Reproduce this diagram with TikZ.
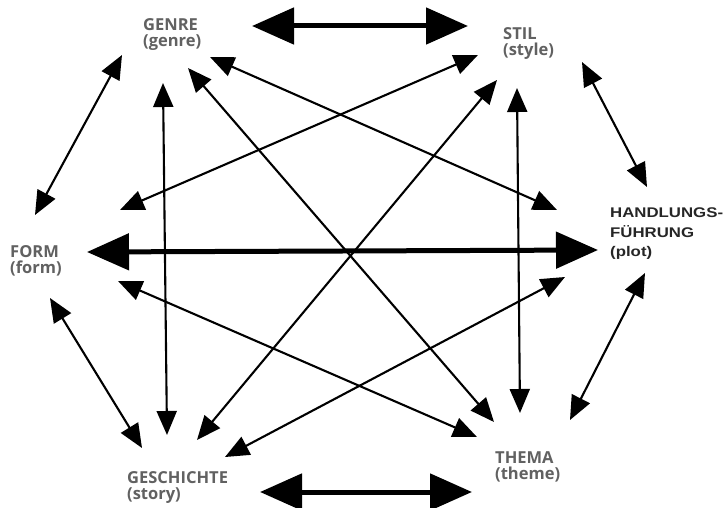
\documentclass[tikz,border=0pt]{standalone}
\usepackage{fontspec}
\usetikzlibrary{arrows.meta}
\newfontfamily\labfont{Open Sans}
\newfontfamily\plotfont[FakeStretch=1.2]{Liberation Sans}
\definecolor{labgray}{gray}{0.38}
\begin{document}
\begin{tikzpicture}[x=1pt,y=-1pt,
  thinarr/.style={line width=2.1pt,
    {Triangle[length=24pt,width=20pt]}-{Triangle[length=24pt,width=20pt]}},
  thickarr/.style={line width=5pt,
    {Triangle[length=42pt,width=36pt]}-{Triangle[length=42pt,width=36pt]}},
  lab/.style={anchor=north west, inner sep=0pt, align=left,
    font=\labfont\bfseries\fontsize{16.5}{16.5}\selectfont, text=labgray},
  plotlab/.style={anchor=north west, inner sep=0pt, align=left,
    font=\plotfont\bfseries\fontsize{14}{19.5}\selectfont, text=black!85}]
\useasboundingbox[fill=white] (0,0) rectangle (726,508);

% labels
\node[lab] (genre) at (143,18) {GENRE\\(genre)};
\node[lab] (stil) at (503,27) {STIL\\(style)};
\node[lab] (form) at (10,245) {FORM\\(form)};
\node[lab] (gesch) at (127,471) {GESCHICHTE\\(story)};
\node[lab] (thema) at (495,451) {THEMA\\(theme)};
\node[plotlab] (plot) at (610,208) {HANDLUNGS-\\FÜHRUNG\\(plot)};

% arrow end points
\coordinate (g-s) at (252,26);   \coordinate (s-g) at (468,26);
\coordinate (c-t) at (260,492);  \coordinate (t-c) at (472,492);
\coordinate (f-p) at (87,252);   \coordinate (p-f) at (598,250);
\coordinate (g-f) at (122,55);   \coordinate (f-g) at (35,215);
\coordinate (s-p) at (582,62);   \coordinate (p-s) at (647,187);
\coordinate (f-c) at (50,298);   \coordinate (c-f) at (142,448);
\coordinate (p-t) at (645,273);  \coordinate (t-p) at (570,420);
\coordinate (g-c) at (163,83);   \coordinate (c-g) at (167,435);
\coordinate (s-t) at (517,88);   \coordinate (t-s) at (520,413);
\coordinate (g-p) at (210,57);   \coordinate (p-g) at (557,210);
\coordinate (g-t) at (188,68);   \coordinate (t-g) at (494,422);
\coordinate (s-f) at (478,55);   \coordinate (f-s) at (120,210);
\coordinate (s-c) at (497,80);   \coordinate (c-s) at (197,440);
\coordinate (p-c) at (565,277);  \coordinate (c-p) at (225,457);
\coordinate (f-t) at (118,281);  \coordinate (t-f) at (477,437);

% thick arrows
\draw[thickarr] (g-s) -- (s-g);
\draw[thickarr] (c-t) -- (t-c);
\draw[thickarr] (f-p) -- (p-f);

% thin arrows
\draw[thinarr] (g-f) -- (f-g);
\draw[thinarr] (s-p) -- (p-s);
\draw[thinarr] (f-c) -- (c-f);
\draw[thinarr] (p-t) -- (t-p);
\draw[thinarr] (g-c) -- (c-g);
\draw[thinarr] (s-t) -- (t-s);
\draw[thinarr] (g-p) -- (p-g);
\draw[thinarr] (g-t) -- (t-g);
\draw[thinarr] (s-f) -- (f-s);
\draw[thinarr] (s-c) -- (c-s);
\draw[thinarr] (p-c) -- (c-p);
\draw[thinarr] (f-t) -- (t-f);
\end{tikzpicture}
\end{document}
